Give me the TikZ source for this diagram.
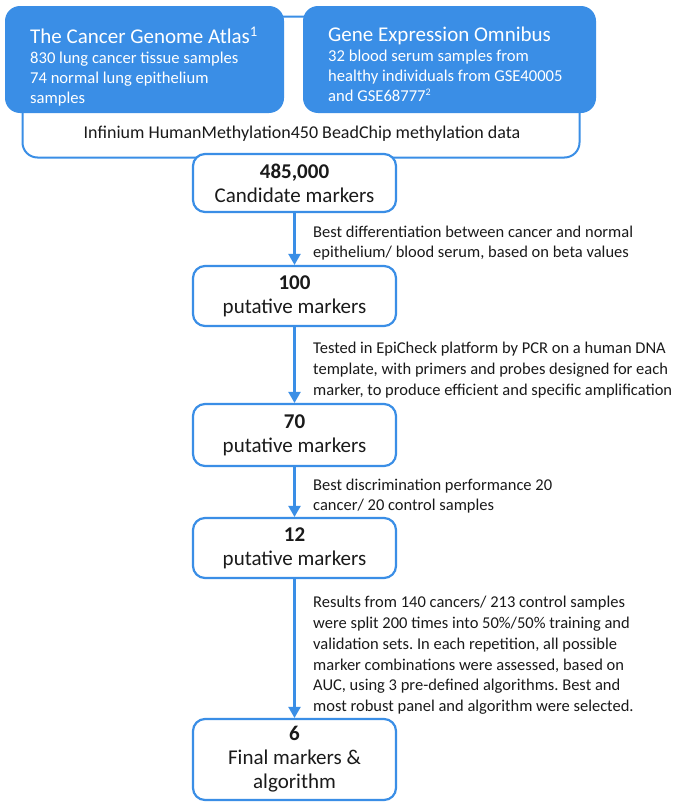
\documentclass[tikz,border=0pt]{standalone}
\usepackage{fontspec}
\setmainfont{Carlito}
\usetikzlibrary{arrows.meta}
\definecolor{mblue}{HTML}{3A8EE6}
\definecolor{txt}{HTML}{1A1A1A}
\frenchspacing
\begin{document}
\begin{tikzpicture}[x=1pt,y=-1pt,
  srcbox/.style={fill=mblue, draw=none, rounded corners=15pt, inner sep=0pt},
  srctxt/.style={anchor=north west, align=left, inner sep=0pt, text=white, font=\fontsize{16.6}{20}\selectfont},
  framebox/.style={draw=mblue, line width=2pt, rounded corners=15pt, fill=white, inner sep=0pt},
  stepbox/.style={draw=mblue, line width=2.2pt, rounded corners=12pt, fill=white, minimum width=203pt, minimum height=60pt, inner sep=0pt, align=center, text=txt, font=\fontsize{21}{24}\selectfont},
  lbl/.style={anchor=north west, align=left, inner sep=0pt, text=txt, font=\fontsize{16.5}{20.5}\selectfont},
  flow/.style={draw=mblue, line width=2.2pt, -{Triangle[width=12pt,length=11pt]}}
]
\useasboundingbox (0,0) rectangle (678,803);
\fill[white] (0,0) rectangle (678,803);

% data frame and sources
\node[framebox, minimum width=557pt, minimum height=141pt] (frame) at (301,87) {};
\node[srcbox, minimum width=279pt, minimum height=107pt] (tcga) at (144.5,59.5) {};
\node[srcbox, minimum width=293pt, minimum height=107pt] (geo) at (449.5,59.5) {};
\node[srctxt] (tcgatxt) at (30,26.5) {{\fontsize{21}{20}\selectfont The Cancer Genome Atlas\textsuperscript{1}}\\830 lung cancer tissue samples\\74 normal lung epithelium\\samples};
\node[srctxt] (geotxt) at (328,26.5) {{\fontsize{21}{20}\selectfont Gene Expression Omnibus}\\32 blood serum samples from\\healthy individuals from GSE40005\\and GSE68777{\fontsize{10}{10}\selectfont\raisebox{5.5pt}{2}}};
\node[anchor=base, inner sep=0pt, text=txt, font=\fontsize{18}{20}\selectfont] (inf) at (302,138) {Infinium HumanMethylation450 BeadChip methylation data};

% steps
\node[stepbox, minimum height=58pt] (s1) at (294.5,183) {\textbf{485,000}\\Candidate markers};
\node[stepbox] (s2) at (294.5,296) {\textbf{100}\\putative markers};
\node[stepbox, minimum height=62pt] (s3) at (294.5,435) {\textbf{70}\\putative markers};
\node[stepbox] (s4) at (294.5,548) {\textbf{12}\\putative markers};
\node[stepbox, minimum height=81pt] (s5) at (294.5,759.5) {\textbf{6}\\Final markers \&\\algorithm};

% connectors
\draw[flow] (s1.south) -- (s2.north);
\draw[flow] (s2.south) -- (s3.north);
\draw[flow] (s3.south) -- (s4.north);
\draw[flow] (s4.south) -- (s5.north);

% labels
\node[lbl, font=\fontsize{16.5}{20}\selectfont] (l1) at (313,226) {Best differentiation between cancer and normal\\epithelium/ blood serum, based on beta values};
\node[lbl, font=\fontsize{16.5}{21}\selectfont] (l2) at (313,341.5) {Tested in EpiCheck platform by PCR on a human DNA\\template, with primers and probes designed for each\\marker, to produce efficient and specific amplification};
\node[lbl, font=\fontsize{16.5}{20}\selectfont] (l3) at (313,479) {Best discrimination performance 20\\cancer/ 20 control samples};
\node[lbl, font=\fontsize{16.5}{20.8}\selectfont] (l4) at (313,596) {Results from 140 cancers/ 213 control samples\\were split 200 times into 50\%/50\% training and\\validation sets. In each repetition, all possible\\marker combinations were assessed, based on\\AUC, using 3 pre-defined algorithms. Best and\\most robust panel and algorithm were selected.};
\end{tikzpicture}
\end{document}
